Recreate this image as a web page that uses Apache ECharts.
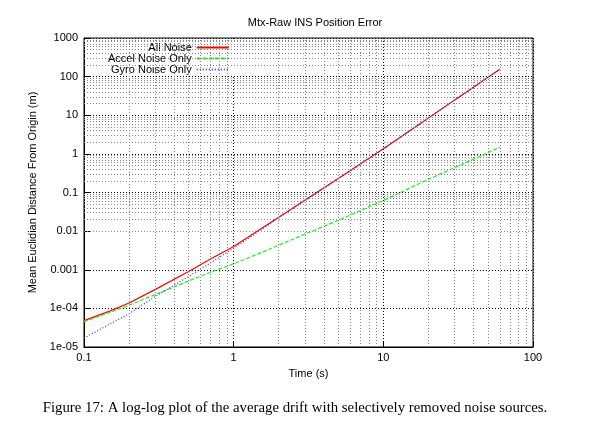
<!DOCTYPE html>
<html>
<head>
<meta charset="utf-8">
<script src="https://cdn.jsdelivr.net/npm/echarts@6/dist/echarts.min.js"></script>
<style>
html,body{margin:0;padding:0;background:#fff;}
#c{width:590px;height:442px;}
</style>
</head>
<body>
<div id="c"></div>
<script>
// ---- data ----
var timeS = [0.1, 0.15, 0.2, 0.3, 0.5, 0.7, 1, 2, 3, 5, 10, 20, 30, 60];
var allNoise = [4.8e-5, 8.6e-5, 1.38e-4, 3.1e-4, 9.0e-4, 1.9e-3, 4.0e-3, 0.023, 0.064, 0.23, 1.35, 8.5, 25, 155];
var accelNoiseOnly = [4.5e-5, 8.0e-5, 1.2e-4, 2.3e-4, 5.1e-4, 8.6e-4, 1.42e-3, 4.3e-3, 8.4e-3, 0.019, 0.062, 0.22, 0.44, 1.49];
var gyroNoiseOnly = [1.7e-5, 4.0e-5, 7.3e-5, 2.05e-4, 6.7e-4, 1.5e-3, 3.6e-3, 0.022, 0.062, 0.225, 1.33, 8.4, 24.8, 154];
var seriesNames = ['All Noise', 'Accel Noise Only', 'Gyro Noise Only'];
var xTickLabels = ['0.1', '1', '10', '100'];
var yTickLabels = ['1e-05', '1e-04', '0.001', '0.01', '0.1', '1', '10', '100', '1000'];
var xDecades = [0.1, 1, 10];
var yDecades = [1e-5, 1e-4, 1e-3, 1e-2, 1e-1, 1, 10, 100];
var minorMults = [2, 3, 4, 5, 6, 7, 8, 9];

function pairs(xs, ys) { return xs.map(function (x, i) { return [x, ys[i]]; }); }
function expOf(v) { return Math.round(Math.log(v) / Math.LN10); }

var minorLines = [];
xDecades.forEach(function (d) { minorMults.forEach(function (m) { minorLines.push({ xAxis: d * m }); }); });
yDecades.forEach(function (d) { minorMults.forEach(function (m) { minorLines.push({ yAxis: d * m }); }); });

var FONT = 'Liberation Sans, Arial, Helvetica, sans-serif';
var chart = echarts.init(document.getElementById('c'), null, { renderer: 'canvas' });
chart.setOption({
  animation: false,
  backgroundColor: '#fff',
  title: {
    text: 'Mtx-Raw INS Position Error',
    left: 310, top: 12, textAlign: 'center',
    textStyle: { fontFamily: FONT, fontSize: 11, fontWeight: 'normal', color: '#000' }
  },
  graphic: [{
    type: 'text', left: 'center', top: 401,
    style: {
      text: 'Figure 17: A log-log plot of the average drift with selectively removed noise sources.',
      font: '14.8px "Liberation Serif", "Times New Roman", serif', fill: '#000'
    }
  }],
  legend: {
    data: seriesNames,
    orient: 'vertical', left: 88, top: 39, align: 'right',
    itemWidth: 32, itemHeight: 8, itemGap: 0,
    padding: [3, 7, 1, 20],
    backgroundColor: '#fff',
    itemStyle: { opacity: 0 },
    textStyle: { fontFamily: FONT, fontSize: 11, lineHeight: 11, color: '#000' }
  },
  grid: { left: 84, right: 57, top: 38, bottom: 95, show: true, borderColor: '#000', borderWidth: 1, backgroundColor: 'transparent' },
  xAxis: {
    type: 'log', logBase: 10, min: 0.1, max: 100, interval: 1,
    name: 'Time (s)', nameLocation: 'middle', nameGap: 21,
    nameTextStyle: { fontFamily: FONT, fontSize: 11, color: '#000' },
    axisLine: { lineStyle: { color: '#000', width: 1 } },
    axisTick: { inside: true, length: 6, lineStyle: { color: '#000' } },
    axisLabel: { fontFamily: FONT, fontSize: 11, color: '#000', margin: 5,
      formatter: function (v) { return xTickLabels[expOf(v) + 1]; } },
    splitLine: { show: true, lineStyle: { color: '#000', width: 1, type: [1, 2] } }
  },
  yAxis: {
    type: 'log', logBase: 10, min: 1e-5, max: 1000, interval: 1,
    name: 'Mean Euclidian Distance From Origin (m)', nameLocation: 'middle', nameGap: 45,
    nameTextStyle: { fontFamily: FONT, fontSize: 11, color: '#000' },
    axisLine: { lineStyle: { color: '#000', width: 1 } },
    axisTick: { inside: true, length: 6, lineStyle: { color: '#000' } },
    axisLabel: { fontFamily: FONT, fontSize: 11, color: '#000', margin: 6,
      formatter: function (v) { return yTickLabels[expOf(v) + 5]; } },
    splitLine: { show: true, lineStyle: { color: '#000', width: 1, type: [1, 2] } }
  },
  series: [
    {
      name: '_minorGrid', type: 'line', data: [], silent: true, z: 1,
      markLine: { silent: true, symbol: ['none', 'none'], label: { show: false }, animation: false,
        lineStyle: { color: '#888', width: 1, type: [1, 2] }, emphasis: { disabled: true },
        data: minorLines }
    },
    {
      name: seriesNames[0], type: 'line', data: pairs(timeS, allNoise), symbol: 'none', z: 3,
      lineStyle: { color: '#ff0000', width: 1.2, type: 'solid' }, itemStyle: { color: '#ff0000' }
    },
    {
      name: seriesNames[1], type: 'line', data: pairs(timeS, accelNoiseOnly), symbol: 'none', z: 3,
      lineStyle: { color: '#22ee22', width: 1.2, type: [4, 2] }, itemStyle: { color: '#22ee22' }
    },
    {
      name: seriesNames[2], type: 'line', data: pairs(timeS, gyroNoiseOnly), symbol: 'none', z: 4,
      lineStyle: { color: '#3333ff', width: 1.2, type: [1, 2] }, itemStyle: { color: '#3333ff' }
    }
  ]
});
</script>
</body>
</html>
